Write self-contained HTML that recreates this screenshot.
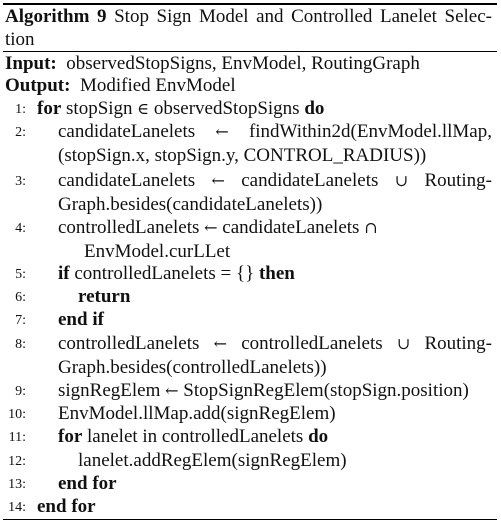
<!DOCTYPE html>
<html><head><meta charset="utf-8"><style>
html,body{margin:0;padding:0;background:#fff;}
body{width:501px;height:525px;position:relative;overflow:hidden;font-family:"Liberation Serif",serif;font-size:19px;color:#111;}
.l{position:absolute;white-space:nowrap;line-height:22px;}
.j{text-align:justify;text-align-last:justify;white-space:normal;}
.n{position:absolute;width:26px;text-align:right;font-size:14px;line-height:22px;left:0;}
.r{position:absolute;left:3px;width:494px;background:#000;}
.s{font-family:"DejaVu Serif",serif;font-size:16px;}
b{font-weight:bold;}
</style></head><body>
<div class="r" style="top:3px;height:2px"></div>
<div class="l j" style="left:5px;top:6px;width:487px">
<b>Algorithm 9</b> Stop Sign Model and Controlled Lanelet Selec-</div>
<div class="l" style="left:5px;top:29px">tion</div>
<div class="r" style="top:51px;height:1px"></div>
<div class="l" style="left:5px;top:53px"><b>Input:</b>&nbsp; observedStopSigns, EnvModel, RoutingGraph</div>
<div class="l" style="left:5px;top:75px"><b>Output:</b>&nbsp; Modified EnvModel</div>

<div class="n" style="top:99px">1:</div><div class="l" style="left:37px;top:98px"><b>for</b> stopSign <span class="s">∈</span> observedStopSigns <b>do</b></div>
<div class="n" style="top:122px">2:</div><div class="l j" style="left:58px;top:121px;width:434px">candidateLanelets &nbsp;<span class="s">←</span> &nbsp;findWithin2d(EnvModel.llMap,</div>
<div class="l" style="left:58px;top:145px">(stopSign.x, stopSign.y, CONTROL_RADIUS))</div>
<div class="n" style="top:171px">3:</div><div class="l j" style="left:58px;top:170px;width:434px">candidateLanelets <span class="s">←</span> candidateLanelets <span class="s">∪</span> Routing-</div>
<div class="l" style="left:58px;top:194px">Graph.besides(candidateLanelets))</div>
<div class="n" style="top:218px">4:</div><div class="l" style="left:58px;top:217px">controlledLanelets <span class="s">←</span> candidateLanelets <span class="s">∩</span></div>
<div class="l" style="left:84px;top:241px">EnvModel.curLLet</div>
<div class="n" style="top:264px">5:</div><div class="l" style="left:58px;top:263px"><b>if</b> controlledLanelets = {} <b>then</b></div>
<div class="n" style="top:287px">6:</div><div class="l" style="left:78px;top:286px"><b>return</b></div>
<div class="n" style="top:310px">7:</div><div class="l" style="left:58px;top:309px"><b>end if</b></div>
<div class="n" style="top:334px">8:</div><div class="l j" style="left:58px;top:333px;width:434px">controlledLanelets <span class="s">←</span> controlledLanelets <span class="s">∪</span> Routing-</div>
<div class="l" style="left:58px;top:357px">Graph.besides(controlledLanelets))</div>
<div class="n" style="top:381px">9:</div><div class="l" style="left:58px;top:380px">signRegElem <span class="s">←</span> StopSignRegElem(stopSign.position)</div>
<div class="n" style="top:404px">10:</div><div class="l" style="left:58px;top:403px">EnvModel.llMap.add(signRegElem)</div>
<div class="n" style="top:427px">11:</div><div class="l" style="left:58px;top:426px"><b>for</b> lanelet in controlledLanelets <b>do</b></div>
<div class="n" style="top:451px">12:</div><div class="l" style="left:78px;top:450px">lanelet.addRegElem(signRegElem)</div>
<div class="n" style="top:474px">13:</div><div class="l" style="left:58px;top:473px"><b>end for</b></div>
<div class="n" style="top:497px">14:</div><div class="l" style="left:37px;top:496px"><b>end for</b></div>
<div class="r" style="top:519px;height:1px"></div>
</body></html>
